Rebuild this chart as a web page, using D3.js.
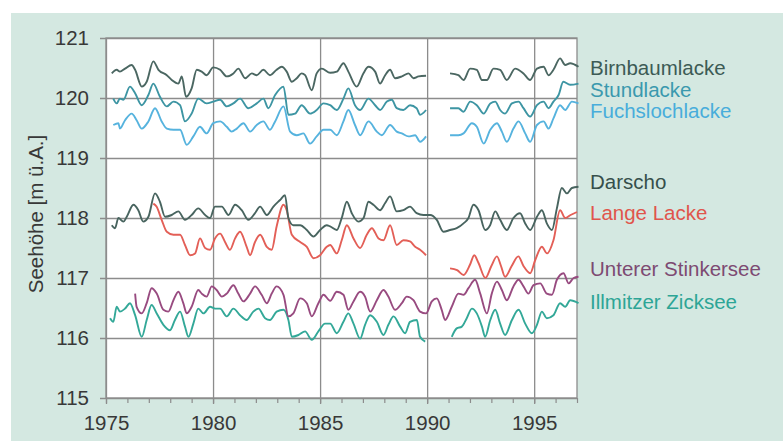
<!DOCTYPE html>
<html>
<head>
<meta charset="utf-8">
<script src="https://cdn.jsdelivr.net/npm/d3@7"></script>
<style>
  html, body { margin: 0; padding: 0; background: #ffffff; }
  svg { display: block; }
  text { font-family: "Liberation Sans", Arial, sans-serif; }
</style>
</head>
<body>
<script>
// ---------------- DATA ----------------
const yearTicks = [1975, 1980, 1985, 1990, 1995];
const levelTicks = [115, 116, 117, 118, 119, 120, 121];
const yAxisTitle = "Seehöhe [m ü.A.]";

const seriesNames = ["Birnbaumlacke", "Stundlacke", "Fuchslochlacke", "Darscho",
  "Lange Lacke", "Unterer Stinkersee", "Illmitzer Zicksee"];

// [year, level in m ü.A.]; null = no measurement
const birnbaumlacke = [
  [1975.27,120.41],[1975.5,120.47],[1975.65,120.44],[1975.89,120.49],[1976.2,120.55],[1976.36,120.47],
  [1976.67,120.19],[1976.9,120.27],[1977.21,120.61],[1977.45,120.47],[1977.84,120.38],[1978.07,120.3],
  [1978.38,120.24],[1978.54,120.36],[1978.74,120.02],[1979.0,120.16],[1979.24,120.47],[1979.47,120.44],
  [1979.7,120.38],[1980.01,120.51],[1980.33,120.47],[1980.64,120.36],[1980.95,120.41],[1981.18,120.49],
  [1981.5,120.33],[1981.81,120.41],[1982.04,120.38],[1982.35,120.47],[1982.66,120.38],[1982.97,120.47],
  [1983.21,120.52],[1983.44,120.44],[1983.68,120.27],[1983.91,120.33],[1984.14,120.41],[1984.3,120.38],
  [1984.61,120.13],[1984.84,120.41],[1985.08,120.49],[1985.47,120.42],[1985.78,120.44],[1986.09,120.58],
  [1986.32,120.44],[1986.71,120.19],[1987.02,120.41],[1987.26,120.52],[1987.57,120.44],[1987.8,120.24],
  [1988.04,120.38],[1988.27,120.47],[1988.5,120.33],[1988.82,120.36],[1989.13,120.41],[1989.36,120.33],
  [1989.6,120.36],[1989.95,120.37],[1990.5,null],
  [1991.07,120.41],[1991.46,120.38],[1991.7,120.3],[1992.01,120.49],[1992.32,120.47],[1992.56,120.3],
  [1992.79,120.3],[1993.1,120.49],[1993.41,120.47],[1993.72,120.3],[1994.11,120.49],[1994.5,120.41],
  [1994.81,120.3],[1995.13,120.49],[1995.44,120.52],[1995.67,120.38],[1995.9,120.47],[1996.21,120.66],
  [1996.45,120.55],[1996.68,120.58],[1997.07,120.52]
];
const stundlacke = [
  [1975.34,119.99],[1975.5,119.91],[1975.65,119.99],[1975.81,119.97],[1976.12,120.19],[1976.36,120.08],
  [1976.67,119.88],[1976.98,120.05],[1977.21,120.24],[1977.52,120.02],[1977.84,119.86],[1978.15,119.94],
  [1978.46,119.88],[1978.69,119.61],[1979.0,119.74],[1979.31,119.99],[1979.7,119.91],[1980.01,119.94],
  [1980.33,119.97],[1980.64,119.86],[1980.95,119.91],[1981.26,119.99],[1981.65,119.83],[1982.04,119.91],
  [1982.35,119.99],[1982.58,119.83],[1982.9,120.05],[1983.29,120.19],[1983.52,119.72],[1983.83,119.74],
  [1984.14,119.88],[1984.53,119.74],[1984.84,119.8],[1985.16,119.91],[1985.47,119.88],[1985.78,119.8],
  [1986.09,119.99],[1986.32,120.16],[1986.63,119.88],[1986.87,119.8],[1987.26,119.99],[1987.57,119.88],
  [1987.8,119.8],[1988.12,119.94],[1988.35,119.97],[1988.58,119.83],[1988.89,119.8],[1989.2,119.88],
  [1989.51,119.83],[1989.67,119.72],[1989.95,119.8],[1990.5,null],
  [1991.07,119.83],[1991.46,119.83],[1991.7,119.77],[1992.01,119.94],[1992.32,119.88],[1992.64,119.74],
  [1992.95,119.91],[1993.18,119.94],[1993.41,119.8],[1993.64,119.74],[1993.96,119.91],[1994.27,119.94],
  [1994.5,119.83],[1994.81,119.69],[1995.13,119.88],[1995.44,119.94],[1995.67,119.83],[1995.9,119.94],
  [1996.14,120.05],[1996.36,120.27],[1996.68,120.22],[1997.07,120.24]
];
const fuchslochlacke = [
  [1975.34,119.55],[1975.58,119.58],[1975.65,119.49],[1975.89,119.63],[1976.2,119.74],[1976.43,119.63],
  [1976.67,119.49],[1976.98,119.61],[1977.29,119.83],[1977.6,119.61],[1977.84,119.49],[1978.15,119.47],
  [1978.46,119.47],[1978.77,119.22],[1979.08,119.36],[1979.39,119.52],[1979.7,119.41],[1980.01,119.58],
  [1980.33,119.61],[1980.64,119.52],[1980.87,119.44],[1981.11,119.49],[1981.42,119.58],[1981.73,119.44],
  [1982.04,119.55],[1982.35,119.61],[1982.66,119.47],[1982.9,119.61],[1983.29,119.86],[1983.6,119.44],
  [1983.91,119.38],[1984.22,119.41],[1984.53,119.24],[1984.84,119.36],[1985.16,119.47],[1985.47,119.47],
  [1985.78,119.38],[1986.09,119.61],[1986.32,119.8],[1986.63,119.55],[1986.87,119.38],[1987.26,119.61],
  [1987.65,119.44],[1987.88,119.38],[1988.27,119.55],[1988.58,119.44],[1988.82,119.41],[1989.13,119.36],
  [1989.44,119.38],[1989.67,119.27],[1989.95,119.36],[1990.5,null],
  [1991.07,119.38],[1991.46,119.38],[1991.7,119.41],[1992.09,119.58],[1992.32,119.52],[1992.64,119.24],
  [1992.95,119.47],[1993.26,119.58],[1993.49,119.44],[1993.72,119.27],[1994.03,119.49],[1994.27,119.61],
  [1994.58,119.41],[1994.81,119.27],[1995.13,119.55],[1995.44,119.61],[1995.67,119.49],[1995.9,119.66],
  [1996.21,119.88],[1996.45,119.8],[1996.76,119.94],[1997.07,119.91]
];
const darscho = [
  [1975.27,117.88],[1975.42,117.83],[1975.58,118.0],[1975.81,117.94],[1975.97,118.02],[1976.28,118.22],
  [1976.51,118.13],[1976.74,117.94],[1976.98,118.02],[1977.29,118.41],[1977.52,118.27],[1977.76,118.02],
  [1978.07,118.05],[1978.38,118.11],[1978.69,117.97],[1979.0,118.05],[1979.31,118.16],[1979.63,118.05],
  [1979.86,118.0],[1980.09,118.19],[1980.41,118.19],[1980.72,118.05],[1981.03,118.22],[1981.34,118.13],
  [1981.65,117.97],[1981.96,118.08],[1982.2,118.19],[1982.51,118.05],[1982.82,118.19],[1983.13,118.3],
  [1983.36,118.38],[1983.52,118.0],[1983.75,117.88],[1984.07,117.88],[1984.38,117.8],[1984.69,117.69],
  [1985.0,117.8],[1985.31,117.88],[1985.47,117.86],[1985.78,117.8],[1986.01,118.0],[1986.25,118.27],
  [1986.48,118.08],[1986.79,117.94],[1987.03,118.0],[1987.26,118.27],[1987.49,118.22],[1987.8,118.13],
  [1988.04,118.25],[1988.27,118.36],[1988.58,118.11],[1988.89,118.13],[1989.2,118.19],[1989.51,118.08],
  [1989.83,118.05],[1990.14,118.05],[1990.45,117.97],[1990.76,117.77],[1991.07,117.8],[1991.38,117.83],
  [1991.7,117.91],[1991.93,118.0],[1992.16,118.22],[1992.4,118.13],[1992.71,117.8],[1992.94,117.88],
  [1993.18,118.11],[1993.41,117.97],[1993.72,117.8],[1994.03,118.0],[1994.34,118.08],[1994.58,117.91],
  [1994.81,117.8],[1995.13,118.02],[1995.36,118.13],[1995.59,117.91],[1995.83,117.8],[1996.06,118.16],
  [1996.29,118.5],[1996.53,118.41],[1996.76,118.5],[1997.07,118.52]
];
const langeLacke = [
  [1977.21,118.24],[1977.36,118.19],[1977.6,117.97],[1977.84,117.77],[1978.15,117.72],[1978.46,117.72],
  [1978.69,117.55],[1978.93,117.38],[1979.16,117.41],[1979.39,117.66],[1979.63,117.5],[1979.86,117.47],
  [1980.09,117.66],[1980.33,117.74],[1980.56,117.6],[1980.79,117.47],[1981.03,117.66],[1981.26,117.77],
  [1981.57,117.52],[1981.73,117.38],[1981.96,117.6],[1982.2,117.72],[1982.51,117.52],[1982.74,117.47],
  [1982.97,117.86],[1983.29,118.22],[1983.44,118.13],[1983.68,117.72],[1984.07,117.6],[1984.38,117.52],
  [1984.69,117.33],[1985.0,117.38],[1985.31,117.52],[1985.47,117.55],[1985.78,117.41],[1986.01,117.63],
  [1986.25,117.88],[1986.56,117.66],[1986.87,117.5],[1987.18,117.72],[1987.42,117.83],[1987.73,117.66],
  [1987.96,117.63],[1988.27,117.88],[1988.58,117.55],[1988.89,117.63],[1989.2,117.61],[1989.44,117.52],
  [1989.67,117.47],[1989.95,117.38],[1990.5,null],
  [1991.07,117.16],[1991.4,117.13],[1991.7,117.05],[1992.0,117.22],[1992.2,117.38],[1992.4,117.25],
  [1992.72,117.0],[1993.0,117.2],[1993.26,117.36],[1993.45,117.2],[1993.64,117.02],[1993.95,117.2],
  [1994.26,117.36],[1994.5,117.2],[1994.81,117.08],[1995.05,117.3],[1995.36,117.52],[1995.6,117.41],
  [1995.9,117.63],[1996.21,118.13],[1996.45,118.0],[1996.7,118.05],[1997.0,118.1]
];
const untererStinkersee = [
  [1976.36,116.74],[1976.43,116.52],[1976.67,116.41],[1976.9,116.58],[1977.13,116.83],[1977.37,116.74],
  [1977.68,116.47],[1977.91,116.44],[1978.15,116.63],[1978.38,116.77],[1978.61,116.58],[1978.77,116.41],
  [1979.0,116.52],[1979.31,116.8],[1979.47,116.74],[1979.7,116.69],[1979.94,116.86],[1980.17,116.8],
  [1980.41,116.69],[1980.64,116.74],[1980.95,116.88],[1981.18,116.74],[1981.42,116.61],[1981.73,116.74],
  [1981.96,116.86],[1982.27,116.72],[1982.51,116.58],[1982.74,116.74],[1982.97,116.86],[1983.29,116.72],
  [1983.52,116.36],[1983.75,116.41],[1984.07,116.66],[1984.38,116.58],[1984.61,116.36],[1984.92,116.58],
  [1985.16,116.72],[1985.47,116.62],[1985.78,116.77],[1986.09,116.72],[1986.32,116.47],[1986.56,116.61],
  [1986.87,116.77],[1987.1,116.69],[1987.34,116.44],[1987.65,116.63],[1987.96,116.8],[1988.19,116.69],
  [1988.5,116.47],[1988.82,116.58],[1989.05,116.69],[1989.36,116.63],[1989.67,116.44],[1989.95,116.41],
  [1990.22,116.61],[1990.45,116.66],[1990.68,116.47],[1990.84,116.3],[1991.15,116.52],[1991.46,116.74],
  [1991.7,116.72],[1991.93,116.83],[1992.24,116.97],[1992.48,116.74],[1992.79,116.41],[1993.02,116.74],
  [1993.26,116.94],[1993.49,116.8],[1993.72,116.63],[1994.03,116.86],[1994.27,116.97],[1994.5,116.86],
  [1994.73,116.74],[1994.97,116.88],[1995.28,116.91],[1995.59,116.74],[1995.83,116.72],[1996.06,116.97],
  [1996.37,117.08],[1996.61,116.91],[1996.84,117.0],[1997.07,117.02]
];
const illmitzerZicksee = [
  [1975.19,116.33],[1975.34,116.27],[1975.5,116.52],[1975.65,116.44],[1975.89,116.49],[1976.12,116.58],
  [1976.36,116.38],[1976.67,116.02],[1976.9,116.3],[1977.13,116.55],[1977.37,116.41],[1977.68,116.22],
  [1977.99,116.13],[1978.22,116.3],[1978.46,116.44],[1978.69,116.19],[1978.85,116.02],[1979.08,116.24],
  [1979.31,116.49],[1979.55,116.41],[1979.86,116.52],[1980.09,116.49],[1980.33,116.49],[1980.64,116.36],
  [1980.95,116.49],[1981.26,116.38],[1981.57,116.3],[1981.88,116.44],[1982.12,116.49],[1982.43,116.33],
  [1982.66,116.3],[1982.97,116.44],[1983.29,116.47],[1983.52,116.3],[1983.68,116.02],[1983.99,116.05],
  [1984.3,116.11],[1984.61,115.97],[1984.92,116.11],[1985.23,116.24],[1985.47,116.24],[1985.78,116.08],
  [1986.09,116.27],[1986.32,116.41],[1986.56,116.24],[1986.87,115.99],[1987.1,116.22],[1987.34,116.38],
  [1987.65,116.27],[1987.96,116.05],[1988.19,116.22],[1988.43,116.36],[1988.74,116.19],[1988.97,116.08],
  [1989.2,116.27],[1989.52,116.3],[1989.67,116.02],[1989.91,115.94],[1990.5,null],
  [1991.15,116.02],[1991.38,116.16],[1991.62,116.19],[1991.85,116.33],[1992.09,116.49],[1992.32,116.41],
  [1992.56,116.19],[1992.71,116.02],[1992.95,116.3],[1993.18,116.47],[1993.41,116.24],[1993.64,116.05],
  [1993.96,116.3],[1994.27,116.47],[1994.58,116.24],[1994.89,116.08],[1995.13,116.22],[1995.36,116.44],
  [1995.59,116.33],[1995.9,116.38],[1996.21,116.58],[1996.45,116.52],[1996.68,116.63],[1997.07,116.58]
];

const seriesData = [birnbaumlacke, stundlacke, fuchslochlacke, darscho, langeLacke, untererStinkersee, illmitzerZicksee];

// ---------------- STYLE / LAYOUT ----------------
const lineColors = ["#4b6762", "#3d95a3", "#56b3de", "#48645f", "#e35f57", "#984b80", "#33a898"];
const labelColors = ["#3c5b55", "#3a99ae", "#48addb", "#364f4b", "#e0554c", "#7d4a72", "#2da596"];
const legendY = [68, 90, 111, 182, 213, 269, 302];

const W = 783, H = 441;
const plot = { left: 106, right: 577, top: 38, bottom: 398 };

const svg = d3.select("body").append("svg").attr("width", W).attr("height", H);

svg.append("rect").attr("x", 0).attr("y", 0).attr("width", W).attr("height", H).attr("fill", "#ffffff");
svg.append("rect").attr("x", 11).attr("y", 13).attr("width", W - 11).attr("height", H - 13).attr("fill", "#d4e8e1");

const x = d3.scaleLinear().domain([1975, 1997]).range([plot.left, plot.right]);
const y = d3.scaleLinear().domain([115, 121]).range([plot.bottom, plot.top]);

svg.append("rect")
  .attr("x", plot.left).attr("y", plot.top)
  .attr("width", plot.right - plot.left).attr("height", plot.bottom - plot.top)
  .attr("fill", "#ffffff");

const gridColor = "#8c8c8c";
const fontSize = "20.5px";
const textColor = "#383838";

// horizontal grid + y ticks
const yAxis = d3.axisLeft(y).tickValues(levelTicks).tickFormat(d3.format("d"))
  .tickSize(-(plot.right - plot.left)).tickSizeOuter(0).tickPadding(17);
const gy = svg.append("g").attr("transform", `translate(${plot.left},0)`).call(yAxis);
gy.select(".domain").remove();
gy.selectAll(".tick line").attr("stroke", gridColor).attr("stroke-width", 1.3).attr("x1", -6);
gy.selectAll(".tick text").attr("fill", textColor).style("font-size", fontSize).attr("font-family", "Liberation Sans, Arial, sans-serif");

// vertical grid at major years
const xGrid = d3.axisBottom(x).tickValues(yearTicks).tickSize(-(plot.bottom - plot.top)).tickFormat("").tickSizeOuter(0);
const gxg = svg.append("g").attr("transform", `translate(0,${plot.bottom})`).call(xGrid);
gxg.select(".domain").remove();
gxg.selectAll(".tick line").attr("stroke", gridColor).attr("stroke-width", 1.3).attr("y1", 6);

// minor yearly ticks
const minorYears = d3.range(1975, 1998);
const xMinor = d3.axisBottom(x).tickValues(minorYears).tickSize(5).tickFormat("").tickSizeOuter(0);
const gxm = svg.append("g").attr("transform", `translate(0,${plot.bottom})`).call(xMinor);
gxm.select(".domain").remove();
gxm.selectAll(".tick line").attr("stroke", gridColor).attr("stroke-width", 1.2);

// x labels
const xAxis = d3.axisBottom(x).tickValues(yearTicks).tickFormat(d3.format("d")).tickSize(0).tickPadding(17);
const gx = svg.append("g").attr("transform", `translate(0,${plot.bottom})`).call(xAxis);
gx.select(".domain").remove();
gx.selectAll(".tick text").attr("fill", textColor).style("font-size", fontSize).attr("font-family", "Liberation Sans, Arial, sans-serif");

// frame
svg.append("rect")
  .attr("x", plot.left).attr("y", plot.top)
  .attr("width", plot.right - plot.left).attr("height", plot.bottom - plot.top)
  .attr("fill", "none").attr("stroke", gridColor).attr("stroke-width", 1.3);

// lines
const line = d3.line()
  .defined(d => d[1] !== null)
  .x(d => x(d[0]))
  .y(d => y(d[1]))
  .curve(d3.curveMonotoneX);

const drawOrder = [6, 5, 4, 3, 2, 1, 0];
drawOrder.forEach(i => {
  svg.append("path")
    .datum(seriesData[i])
    .attr("d", line)
    .attr("fill", "none")
    .attr("stroke", lineColors[i])
    .attr("stroke-width", 1.9)
    .attr("stroke-linejoin", "round");
});

// legend labels
seriesNames.forEach((name, i) => {
  svg.append("text")
    .attr("x", 590).attr("y", legendY[i])
    .attr("dy", "0.35em")
    .attr("fill", labelColors[i])
    .style("font-size", fontSize)
    .text(name);
});

// y axis title
svg.append("text")
  .attr("transform", "translate(36,214) rotate(-90)")
  .attr("text-anchor", "middle")
  .attr("dy", "0.35em")
  .attr("fill", textColor)
  .style("font-size", "20.5px")
  .text(yAxisTitle);
</script>
</body>
</html>
